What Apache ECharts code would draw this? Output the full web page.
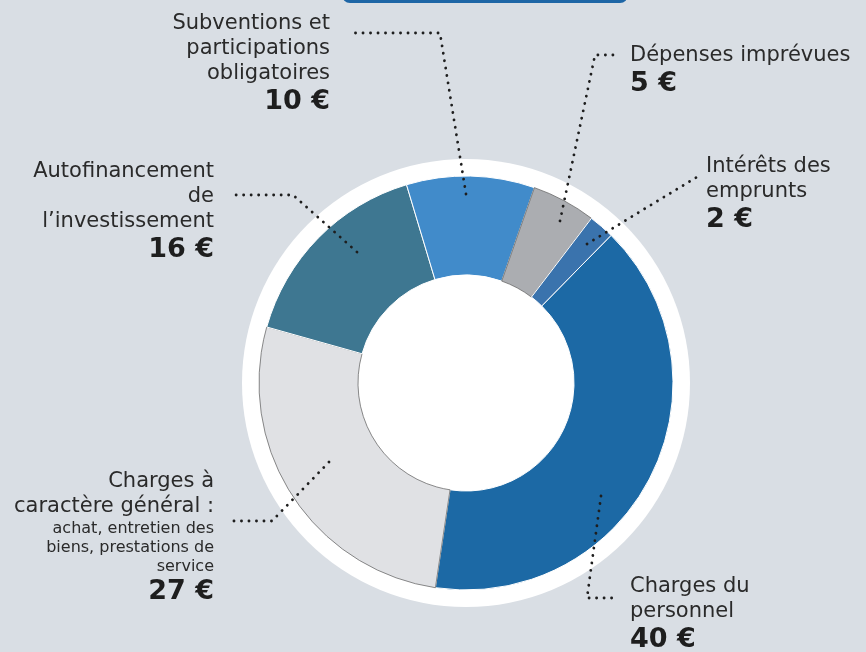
<!DOCTYPE html>
<html>
<head>
<meta charset="utf-8">
<script src="https://cdn.jsdelivr.net/npm/echarts@6/dist/echarts.min.js"></script>
<style>
  html, body { margin: 0; padding: 0; background: #d9dee4; }
  #chart { width: 866px; height: 652px; }
</style>
</head>
<body>
<div id="chart"></div>
<script>
// budget split, in euros per 100 €
var categories = ['Charges du personnel', 'Charges à caractère général', 'Autofinancement de l’investissement',
                  'Subventions et participations obligatoires', 'Dépenses imprévues', 'Intérêts des emprunts'];
var values = [40, 27, 16, 10, 5, 2];
var labelTitles = ['Charges du\npersonnel', 'Charges à\ncaractère général :', 'Autofinancement\nde\nl’investissement',
                   'Subventions et\nparticipations\nobligatoires', 'Dépenses imprévues', 'Intérêts des\nemprunts'];
var labelNotes = ['', 'achat, entretien des\nbiens, prestations de\nservice', '', '', '', ''];
var colors = ['#1c69a5', '#e0e1e4', '#3e7791', '#418bca', '#abadb1', '#3a73ad'];

// where each label block and its dotted leader go
var labelPos = [
    { x: 630, y: 574, align: 'left',  line: [[601, 496], [587, 598], [616, 598]] },
    { x: 214, y: 469, align: 'right', line: [[329, 462], [272, 521], [228, 521]] },
    { x: 214, y: 159, align: 'right', line: [[357, 252], [293, 195], [229, 195]] },
    { x: 330, y: 11,  align: 'right', line: [[466, 194], [440, 33], [355, 33]] },
    { x: 630, y: 43,  align: 'left',  line: [[560, 221], [595, 55], [616, 55]] },
    { x: 706, y: 154, align: 'left',  line: [[587, 244], [641, 211], [697, 177]] }
];

var CENTER = [466, 383];
var RING = [108, 207];
var START = 45.5;

function richFor(align) {
    return {
        n: { fontFamily: 'DejaVu Sans', fontSize: 21, lineHeight: 25, color: '#2a2a2a', align: align },
        s: { fontFamily: 'DejaVu Sans', fontSize: 16, lineHeight: 19, color: '#2a2a2a', align: align },
        b: { fontFamily: 'DejaVu Sans', fontSize: 27, fontWeight: 'bold', lineHeight: 32, color: '#1e1e1e', align: align }
    };
}

var sliceData = values.map(function (v, i) {
    var dark = (i === 1 || i === 4);
    return {
        name: categories[i],
        value: v,
        itemStyle: {
            color: colors[i],
            borderColor: dark ? '#5a5a5a' : '#ffffff',
            borderWidth: dark ? 0.7 : 1
        }
    };
});

// same values again, invisible, only to carry labels + leaders above the slices
var labelData = values.map(function (v, i) {
    return {
        name: categories[i],
        value: v,
        label: { rich: richFor(labelPos[i].align) }
    };
});

var chart = echarts.init(document.getElementById('chart'));
var option = {
    backgroundColor: '#d9dee4',
    animation: false,
    graphic: [{
        type: 'rect',
        shape: { x: 342, y: -30, width: 286, height: 33, r: 8 },
        style: { fill: '#1e66a6' }
    }],
    series: [
        {
            // white disc behind the ring
            type: 'pie',
            silent: true,
            z: 1,
            center: CENTER,
            radius: [0, 224],
            label: { show: false },
            labelLine: { show: false },
            data: [{ value: 1, itemStyle: { color: '#ffffff' } }]
        },
        {
            type: 'pie',
            z: 3,
            silent: true,
            center: CENTER,
            radius: RING,
            startAngle: START,
            label: { show: false },
            labelLine: { show: false },
            data: sliceData
        },
        {
            type: 'pie',
            z: 5,
            silent: true,
            center: CENTER,
            radius: RING,
            startAngle: START,
            avoidLabelOverlap: false,
            itemStyle: { color: 'rgba(0,0,0,0)', borderWidth: 0 },
            label: {
                show: true,
                position: 'outside',
                formatter: function (p) {
                    var i = p.dataIndex;
                    var out = labelTitles[i].split('\n').map(function (t) { return '{n|' + t + '}'; });
                    if (labelNotes[i]) {
                        out = out.concat(labelNotes[i].split('\n').map(function (t) { return '{s|' + t + '}'; }));
                    }
                    out.push('{b|' + p.value + ' €}');
                    return out.join('\n');
                }
            },
            labelLine: {
                show: true,
                showAbove: true,
                length: 10,
                length2: 10,
                lineStyle: { color: '#1e1e1e', width: 2.8, type: [0.1, 7.4], cap: 'round' }
            },
            labelLayout: function (params) {
                var lp = labelPos[params.dataIndex];
                return {
                    x: lp.x,
                    y: lp.y,
                    align: lp.align,
                    verticalAlign: 'top',
                    labelLinePoints: lp.line
                };
            },
            data: labelData
        }
    ]
};
chart.setOption(option);
</script>
</body>
</html>
